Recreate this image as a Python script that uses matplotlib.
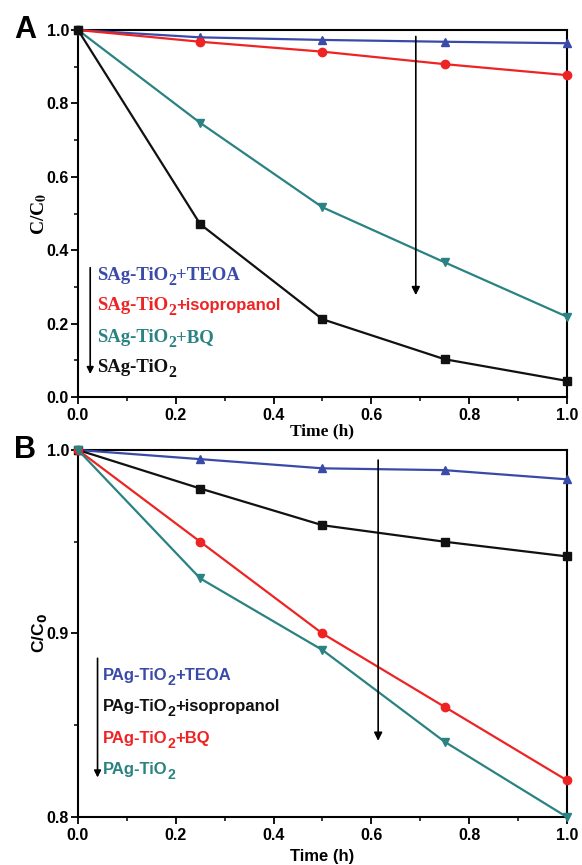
import matplotlib
matplotlib.use("Agg")
import matplotlib.pyplot as plt
from matplotlib.ticker import MultipleLocator

# ---- data ----
time_h = [0.0, 0.25, 0.5, 0.75, 1.0]

a_teoa = [1.0, 0.980, 0.973, 0.968, 0.964]
a_iso = [1.0, 0.968, 0.941, 0.907, 0.877]
a_bq = [1.0, 0.747, 0.517, 0.367, 0.219]
a_plain = [1.0, 0.471, 0.212, 0.103, 0.044]

b_teoa = [1.0, 0.995, 0.990, 0.989, 0.984]
b_iso = [1.0, 0.979, 0.959, 0.950, 0.942]
b_bq = [1.0, 0.950, 0.900, 0.860, 0.820]
b_plain = [1.0, 0.930, 0.891, 0.841, 0.800]

a_suffixes = ["+TEOA", "+isopropanol", "+BQ", ""]
b_suffixes = ["+TEOA", "+isopropanol", "+BQ", ""]

BLUE = "#3a4aa8"
RED = "#ee2424"
TEAL = "#2a8282"
BLACK = "#111111"

SERIF = "Liberation Serif"
SANS = "Liberation Sans"

fig = plt.figure(figsize=(5.82, 8.65), dpi=100)
axA = fig.add_axes([0.134, 0.541, 0.840, 0.4243])
axB = fig.add_axes([0.134, 0.0555, 0.840, 0.4243])


def style(ax, ymin, ymax, ymaj, ymin_step):
    ax.set_xlim(0, 1.0)
    ax.set_ylim(ymin, ymax)
    ax.xaxis.set_major_locator(MultipleLocator(0.2))
    ax.xaxis.set_minor_locator(MultipleLocator(0.1))
    ax.yaxis.set_major_locator(MultipleLocator(ymaj))
    ax.yaxis.set_minor_locator(MultipleLocator(ymin_step))
    for s in ax.spines.values():
        s.set_linewidth(1.5)
    ax.tick_params(which="major", direction="out", length=5, width=1.3,
                   top=False, right=False)
    ax.tick_params(axis="y", which="major", pad=1.5)
    ax.tick_params(axis="x", which="major", pad=3)
    ax.tick_params(which="minor", direction="out", length=3, width=1.1,
                   top=False, right=False)
    for lab in ax.get_xticklabels() + ax.get_yticklabels():
        lab.set_fontfamily(SANS)
        lab.set_fontweight("bold")
        lab.set_fontsize(11.5)


def sub_label(ax, x, y, base, sub, suffix, color, base_fam, suffix_fam, size, suffix_size):
    t1 = ax.text(x, y, base, color=color, fontfamily=base_fam, fontweight="bold",
                 fontsize=size, va="baseline", ha="left")
    t2 = ax.annotate(sub, xy=(1, y), xycoords=(t1, "data"), xytext=(0.2, -3.5),
                     textcoords="offset points", color=color, fontfamily=base_fam,
                     fontweight="bold", fontsize=size * 0.85, va="baseline", ha="left")
    if suffix:
        ax.annotate(suffix, xy=(1, y), xycoords=(t2, "data"), xytext=(0.2, 0),
                    textcoords="offset points", color=color, fontfamily=suffix_fam,
                    fontweight="bold", fontsize=suffix_size, va="baseline", ha="left")


lw = 1.6
ms = 6
# Panel A
axA.plot(time_h, a_teoa, color=BLUE, lw=lw, marker="^", ms=ms, clip_on=False, zorder=3)
axA.plot(time_h, a_iso, color=RED, lw=lw, marker="o", ms=ms, clip_on=False, zorder=3)
axA.plot(time_h, a_bq, color=TEAL, lw=lw, marker="v", ms=ms, clip_on=False, zorder=3)
axA.plot(time_h, a_plain, color=BLACK, lw=lw, marker="s", ms=ms - 0.5, clip_on=False, zorder=3)
style(axA, 0.0, 1.0, 0.2, 0.1)
axA.set_xlabel("Time (h)", fontfamily=SERIF, fontweight="bold", fontsize=12.5)
axA.xaxis.set_label_coords(0.5, -0.072)
axA.set_ylabel(r"C/C$_\mathbf{0}$", fontfamily=SERIF, fontweight="bold", fontsize=14,
               math_fontfamily="stix")
axA.yaxis.set_label_coords(-0.06, 0.5)
axA.annotate("", xy=(0.691, 0.27), xytext=(0.691, 0.99),
             arrowprops=dict(arrowstyle="-|>", color="black", lw=1.2, mutation_scale=12))
axA.annotate("", xy=(0.025, 0.055), xytext=(0.025, 0.36),
             arrowprops=dict(arrowstyle="-|>", color="black", lw=1.2, mutation_scale=10))

a_colors = [BLUE, RED, TEAL, BLACK]
a_ys = [0.318, 0.236, 0.150, 0.068]
for suffix, col, yy in zip(a_suffixes, a_colors, a_ys):
    fam = SANS if suffix == "+isopropanol" else SERIF
    sub_label(axA, 0.038, yy, "SAg-TiO", "2", suffix, col, SERIF, fam, 13.5,
              12 if fam == SANS else 13.5)
axA.text(-0.108, 1.0, "A", transform=axA.transAxes, fontfamily=SANS, fontweight="bold",
         fontsize=22, va="center", ha="center")

# Panel B
axB.plot(time_h, b_teoa, color=BLUE, lw=lw, marker="^", ms=ms, clip_on=False, zorder=3)
axB.plot(time_h, b_iso, color=BLACK, lw=lw, marker="s", ms=ms - 0.5, clip_on=False, zorder=3)
axB.plot(time_h, b_bq, color=RED, lw=lw, marker="o", ms=ms, clip_on=False, zorder=3)
axB.plot(time_h, b_plain, color=TEAL, lw=lw, marker="v", ms=ms, clip_on=False, zorder=3)
style(axB, 0.8, 1.0, 0.1, 0.05)
axB.set_xlabel("Time (h)", fontfamily=SANS, fontweight="bold", fontsize=12)
axB.xaxis.set_label_coords(0.5, -0.086)
axB.set_ylabel(r"C/C$_\mathbf{0}$", fontfamily=SANS, fontweight="bold", fontsize=12.5,
               math_fontfamily="dejavusans")
axB.yaxis.set_label_coords(-0.06, 0.5)
axB.annotate("", xy=(0.614, 0.840), xytext=(0.614, 0.996),
             arrowprops=dict(arrowstyle="-|>", color="black", lw=1.2, mutation_scale=12))
axB.annotate("", xy=(0.04, 0.820), xytext=(0.04, 0.888),
             arrowprops=dict(arrowstyle="-|>", color="black", lw=1.2, mutation_scale=10))
b_colors = [BLUE, BLACK, RED, TEAL]
b_ys = [0.8745, 0.8575, 0.8405, 0.8235]
for suffix, col, yy in zip(b_suffixes, b_colors, b_ys):
    sub_label(axB, 0.05, yy, "PAg-TiO", "2", suffix, col, SANS, SANS, 12, 12)
axB.text(-0.108, 1.0, "B", transform=axB.transAxes, fontfamily=SANS, fontweight="bold",
         fontsize=22, va="center", ha="center")

fig.savefig("out.png", dpi=100)
